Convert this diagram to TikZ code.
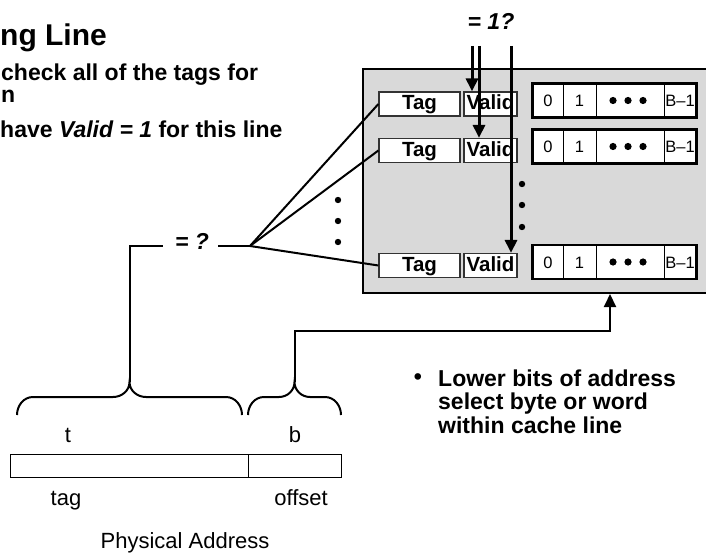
\documentclass[tikz,border=0pt]{standalone}
\usepackage{fontspec}
\setmainfont{Liberation Sans}
\definecolor{cachegray}{HTML}{D9D9D9}
\definecolor{rim}{HTML}{333333}
\usetikzlibrary{arrows.meta, positioning, calc}
\tikzset{
  fieldbox/.style={draw=rim, fill=white, line width=1.2pt, inner sep=0pt, minimum height=24pt,
                   text height=15pt, text depth=3pt, font=\fontsize{20.5}{22}\selectfont\bfseries},
  cell/.style={draw, fill=white, line width=1pt, inner sep=0pt, minimum height=33pt,
               text height=12pt, text depth=0pt, font=\fontsize{16.5}{18}\selectfont},
  wire/.style={line width=2pt},
  probe/.style={-{Triangle[length=13pt,width=12pt]}, line width=3pt},
  lbl/.style={font=\fontsize{22}{24}\selectfont, inner sep=0pt},
  blbl/.style={font=\fontsize{23}{24}\selectfont\bfseries\itshape, inner sep=0pt},
  note/.style={font=\fontsize{23}{23.5}\selectfont\bfseries, inner sep=0pt, align=left},
}
\begin{document}
\begin{tikzpicture}[x=1pt,y=-1pt]
  \clip (0,0) rectangle (706,553);
  % slide text, cut at the left edge
  \node[note,font=\fontsize{30}{32}\selectfont\bfseries,anchor=base west] (title) at (0,46) {ng Line};
  \node[note,anchor=base west] (hint1) at (1,81) {check all of the tags for};
  \node[note,anchor=base west] (hint1b) at (1,103) {n};
  \node[note,anchor=base west] (hint2) at (0,138) {have \textit{Valid = 1} for this line};

  % cache lines
  \node[draw,fill=cachegray,line width=2pt,minimum width=350pt,minimum height=224pt,inner sep=0pt] (cache) at (538,181) {};
  \foreach \r/\ty/\cy in {1/104/100.5, 2/150.5/146.5, 3/265.5/262} {
    \node[fieldbox,minimum width=81pt] (tag\r) at (419.5,\ty) {Tag};
    \node[fieldbox,minimum width=53pt] (valid\r) at (490.5,\ty) {Valid};
    \node[cell,minimum width=30pt] (cz\r) at (548,\cy) {0};
    \node[cell,minimum width=33pt] (co\r) at (579.5,\cy) {1};
    \node[cell,minimum width=68pt] (cd\r) at (630,\cy) {};
    \node[cell,minimum width=32pt] (cb\r) at (680,\cy) {B--1};
    \foreach \k in {-17,-2,13} \fill ($(cd\r)+(\k,0)$) circle (3.6pt);
    \draw[line width=2.5pt] (cz\r.north west) rectangle (cb\r.south east);
  }
  \foreach \y in {184,205,227} \fill (522,\y) circle (3.2pt);
  \foreach \y in {200,221,242} \fill (338,\y) circle (3.2pt);

  % valid bits
  \node[blbl] (isone) at (491,21) {= 1?};
  \coordinate (p1) at (472,46);
  \coordinate (p2) at (479,46);
  \coordinate (p3) at (511,46);
  \draw[probe] (p1) -- (p1 |- valid1.north);
  \draw[probe] (p2) -- (p2 |- valid2.north);
  \draw[probe] (p3) -- (p3 |- valid3.north);

  % tag compare
  \node[blbl] (same) at (192,241) {= ?};
  \coordinate (eqr) at (218,246);
  \coordinate (eql) at (163,246);
  \coordinate (join) at (250,246);
  \draw[wire] (eqr) -- (join);
  \draw[wire] (join) -- (tag1.west);
  \draw[wire] (join) -- (tag2.west);
  \draw[wire] (join) -- (tag3.west);

  % braces over the address
  \coordinate (ttip) at (129.5,382);
  \coordinate (btip) at (294.5,382);
  \coordinate (sel) at (610,331);
  \draw[wire] (17,415) to[out=90,in=180] (33,397) -- (113,397) to[out=0,in=270] (ttip)
              to[out=270,in=180] (146,397) -- (226,397) to[out=0,in=90] (242,415);
  \draw[wire] (248,415) to[out=90,in=180] (264,397) -- (279,397) to[out=0,in=270] (btip)
              to[out=270,in=180] (310,397) -- (325,397) to[out=0,in=90] (341,415);
  \draw[wire] (ttip) |- (eql);
  \draw[wire,-{Triangle[length=13pt,width=12pt]}] (btip) |- (sel) -- (sel |- cache.south);

  % physical address
  \node[draw,line width=1pt,minimum width=238pt,minimum height=23pt,inner sep=0pt] (tagfield) at (129,465.5) {};
  \node[draw,line width=1pt,minimum width=93pt,minimum height=23pt,inner sep=0pt] (offfield) at (294.5,465.5) {};
  \node[lbl,anchor=base] (tbits) at (68,442) {t};
  \node[lbl,anchor=base] (bbits) at (295,442) {b};
  \node[lbl,anchor=base] (tagname) at (66,505) {tag};
  \node[lbl,anchor=base] (offname) at (301,505) {offset};
  \node[lbl,anchor=base] (phys) at (185,548) {Physical Address};

  \node[note] (dot) at (418,379) {•};
  \node[note,anchor=base west] (lower) at (438,433) {Lower bits of address\\select byte or word\\within cache line};
\end{tikzpicture}
\end{document}
